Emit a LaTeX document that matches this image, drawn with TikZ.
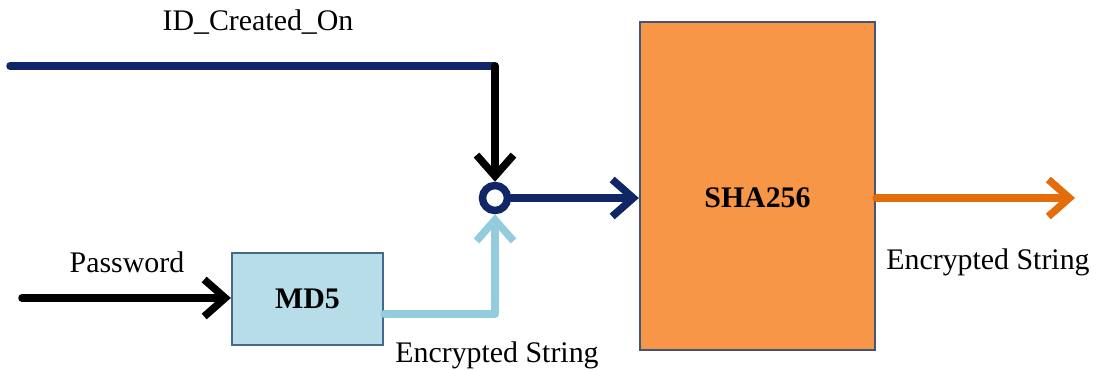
\documentclass[tikz,border=0pt]{standalone}
\usepackage{fontspec}
\setmainfont{Liberation Serif}
\usetikzlibrary{arrows.meta,calc}
\definecolor{navy}{RGB}{16,38,102}
\definecolor{skyline}{RGB}{146,204,221}
\definecolor{mdfill}{RGB}{183,222,232}
\definecolor{mdedge}{RGB}{70,104,140}
\definecolor{shafill}{RGB}{247,150,70}
\definecolor{shaedge}{RGB}{66,84,120}
\definecolor{outline}{RGB}{228,108,10}

\begin{document}
\begin{tikzpicture}[
        flow/.style={line width=0.15cm, line cap=round, line join=round},
        tip/.style={-{Straight Barb[length=0.42cm,width=0.74cm]}},
        hashbox/.style={draw, line width=1.3pt, inner sep=0pt,
            font=\fontsize{17}{20}\selectfont\bfseries},
        every node/.style={font=\fontsize{17}{20}\selectfont},
    ]
    \useasboundingbox (0,0) rectangle (21.94,7.38);

    \node[hashbox, fill=mdfill, draw=mdedge,
          minimum width=3.02cm, minimum height=1.84cm] (md5) at (6.15,1.40) {MD5};
    \node[hashbox, fill=shafill, draw=shaedge,
          minimum width=4.7cm, minimum height=6.56cm,
          label={[font=\fontsize{17}{20}\selectfont\bfseries, yshift=-0.24cm]center:SHA256}]
          (sha) at (15.15,3.66) {};
    \node[circle, draw=navy, fill=white, line width=0.15cm,
          minimum size=0.5cm, inner sep=0pt] (mix) at (9.9,3.42) {};

    \coordinate (idin) at (0.2,6.06);
    \coordinate (corner) at (9.9,6.06);
    \coordinate (pwin) at (0.44,1.42);
    \coordinate (out) at (21.5,3.42);

    % ID_Created_On feed
    \draw[flow, navy] (idin) -- (corner);
    \draw[flow, tip, black] (corner) -- (mix.north);

    % password through MD5
    \draw[flow, tip, black] (pwin) -- (md5.west |- pwin);
    \draw[flow, tip, skyline] ($(md5.east)+(0,-0.3)$) -| (mix.south);

    % combined into SHA256
    \draw[flow, tip, navy] (mix.east) -- (mix -| sha.west);
    \draw[flow, tip, outline] (mix -| sha.east) -- (out);

    \node (idlabel) at (5.16,6.94) {ID\_Created\_On};
    \node (pwlabel) at (2.54,2.14) {Password};
    \node (mdlabel) at (9.94,0.28) {Encrypted String};
    \node (shalabel) at (19.76,2.14) {Encrypted String};
\end{tikzpicture}
\end{document}
